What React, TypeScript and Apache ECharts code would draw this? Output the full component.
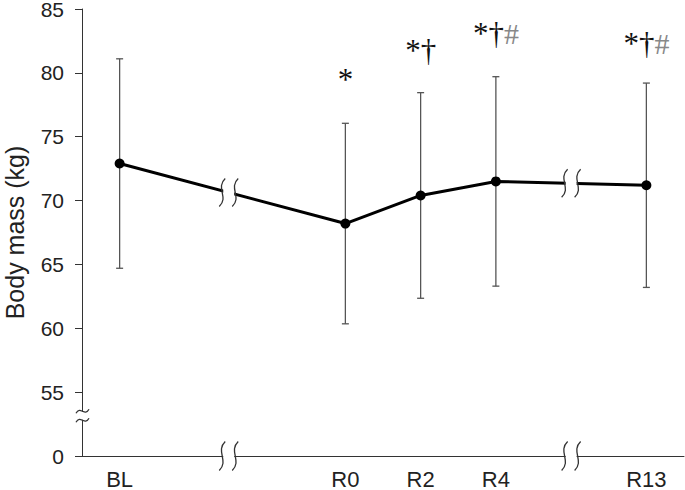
import React, { useEffect, useRef } from 'react';
import * as echarts from 'echarts';

// ---- data ----
const categories = ['BL', 'R0', 'R2', 'R4', 'R13'];
const slots = [0, 3, 4, 5, 7]; // x slot of each category (gaps = axis breaks)
const meanMass = [72.9, 68.2, 70.4, 71.5, 71.2];
const sdMass = [8.2, 7.85, 8.05, 8.2, 8.0];
const marks = ['', '*', '*†', '*†#', '*†#'];
const markY = [0, 79.5, 81.75, 83.1, 82.3];
const yTickLabels: Record<number, string> = { 50: '0', 55: '55', 60: '60', 65: '65', 70: '70', 75: '75', 80: '80', 85: '85' };
const xBreakSlots = [1.45, 6];
const yBreakValue = 53.15;

const SANS = '"Liberation Sans", Arial, Helvetica, sans-serif';
const SERIF = '"Liberation Serif", "Times New Roman", serif';
const AXIS = '#333';

function lineValueAt(b: number): number {
  for (let i = 0; i < slots.length - 1; i++) {
    if (b > slots[i] && b < slots[i + 1]) {
      const t = (b - slots[i]) / (slots[i + 1] - slots[i]);
      return meanMass[i] + (meanMass[i + 1] - meanMass[i]) * t;
    }
  }
  return meanMass[0];
}

function vWave(x: number, yc: number, h: number) {
  return {
    type: 'bezierCurve',
    shape: {
      x1: x + 3, y1: yc - h / 2,
      cpx1: x - 7, cpy1: yc - h / 6,
      cpx2: x + 7, cpy2: yc + h / 6,
      x2: x - 3, y2: yc + h / 2,
    },
    style: { stroke: AXIS, lineWidth: 1.3, fill: 'none' },
  };
}

function hWave(xc: number, y: number, w: number) {
  return {
    type: 'bezierCurve',
    shape: {
      x1: xc - w / 2, y1: y + 2,
      cpx1: xc - w / 6, cpy1: y - 6,
      cpx2: xc + w / 6, cpy2: y + 6,
      x2: xc + w / 2, y2: y - 2,
    },
    style: { stroke: AXIS, lineWidth: 1.3, fill: 'none' },
  };
}

export default function App() {
  const ref = useRef<HTMLDivElement>(null);
  useEffect(() => {
    const chart = echarts.init(ref.current!, null, { renderer: 'svg' });
    const option: any = {
      animation: false,
      backgroundColor: '#fff',
      grid: { left: 82, right: 1, top: 9, bottom: 34, containLabel: false, outerBoundsMode: 'none' },
      xAxis: {
        type: 'value',
        min: -0.5,
        max: 7.5,
        splitLine: { show: false },
        axisTick: { show: false },
        axisLine: { show: true, onZero: false, lineStyle: { color: AXIS, width: 1 } },
        axisLabel: {
          customValues: slots,
          formatter: (v: number) => {
            const i = slots.indexOf(v);
            return i >= 0 ? categories[i] : '';
          },
          margin: 12,
          fontSize: 22,
          lineHeight: 22,
          fontFamily: SANS,
          color: '#222',
        },
      },
      yAxis: {
        type: 'value',
        min: 50,
        max: 85,
        interval: 5,
        name: 'Body mass (kg)',
        nameLocation: 'middle',
        nameGap: 56,
        nameTextStyle: { fontSize: 25, lineHeight: 22, fontFamily: SANS, color: '#222' },
        splitLine: { show: false },
        axisLine: { show: true, onZero: false, lineStyle: { color: AXIS, width: 1 } },
        axisTick: { show: true, length: 7, lineStyle: { color: AXIS } },
        axisLabel: {
          formatter: (v: number) => yTickLabels[v] ?? '',
          margin: 18,
          fontSize: 21,
          lineHeight: 16,
          fontFamily: SANS,
          color: '#222',
        },
      },
      series: [
        {
          type: 'custom',
          name: 'sd',
          z: 1,
          clip: false,
          data: slots.map((x, i) => [x, meanMass[i], sdMass[i]]),
          renderItem: (params: any, api: any) => {
            const x = api.value(0), m = api.value(1), s = api.value(2);
            const top = api.coord([x, m + s]);
            const bot = api.coord([x, m - s]);
            const w = 3.5;
            const style = { stroke: '#555', lineWidth: 1.3 };
            return {
              type: 'group',
              children: [
                { type: 'line', shape: { x1: top[0], y1: top[1], x2: bot[0], y2: bot[1] }, style },
                { type: 'line', shape: { x1: top[0] - w, y1: top[1], x2: top[0] + w, y2: top[1] }, style },
                { type: 'line', shape: { x1: bot[0] - w, y1: bot[1], x2: bot[0] + w, y2: bot[1] }, style },
              ],
            };
          },
        },
        {
          type: 'line',
          name: 'mean',
          z: 3,
          data: slots.map((x, i) => [x, meanMass[i]]),
          symbol: 'circle',
          symbolSize: 10,
          lineStyle: { color: '#000', width: 3 },
          itemStyle: { color: '#000' },
        },
        {
          type: 'custom',
          name: 'xbreaks',
          z: 10,
          clip: false,
          data: xBreakSlots.map((b) => [b, lineValueAt(b), 50]),
          renderItem: (params: any, api: any) => {
            const pL = api.coord([api.value(0), api.value(1)]);
            const pA = api.coord([api.value(0), api.value(2)]);
            const half = 6.5;
            const children: any[] = [];
            for (const [p, h] of [[pL, 28], [pA, 29]] as any) {
              children.push({
                type: 'rect',
                shape: { x: p[0] - half + 1, y: p[1] - 8, width: 2 * half - 2, height: 16 },
                style: { fill: '#fff' },
              });
              children.push(vWave(p[0] - half, p[1], h));
              children.push(vWave(p[0] + half, p[1], h));
            }
            return { type: 'group', children };
          },
        },
        {
          type: 'custom',
          name: 'ybreak',
          z: 10,
          clip: false,
          data: [[-0.5, yBreakValue]],
          renderItem: (params: any, api: any) => {
            const p = api.coord([api.value(0), api.value(1)]);
            return {
              type: 'group',
              children: [
                { type: 'rect', shape: { x: p[0] - 4, y: p[1] - 4, width: 8, height: 8 }, style: { fill: '#fff' } },
                hWave(p[0] + 0.5, p[1] - 4.5, 13),
                hWave(p[0] + 0.5, p[1] + 4.5, 13),
              ],
            };
          },
        },
        {
          type: 'custom',
          name: 'marks',
          z: 5,
          clip: false,
          data: slots.map((x, i) => [x, markY[i], i]),
          renderItem: (params: any, api: any) => {
            const i = api.value(2);
            const mk = marks[i];
            if (!mk) return null;
            const p = api.coord([api.value(0), api.value(1)]);
            const parts = mk.split('#');
            let text = parts[0] ? `{s|${parts[0]}}` : '';
            if (mk.includes('#')) text += '{h|#}';
            return {
              type: 'text',
              x: p[0],
              y: p[1],
              style: {
                text,
                align: 'center',
                verticalAlign: 'middle',
                rich: {
                  s: { fontSize: 31, fontFamily: SERIF, fill: '#111' },
                  h: { fontSize: 30, fontFamily: SERIF, fill: '#888' },
                },
              },
            };
          },
        },
      ],
    };
    chart.setOption(option);
    return () => chart.dispose();
  }, []);
  return <div ref={ref} style={{ position: 'fixed', left: 0, top: 0, width: 685, height: 490 }} />;
}
